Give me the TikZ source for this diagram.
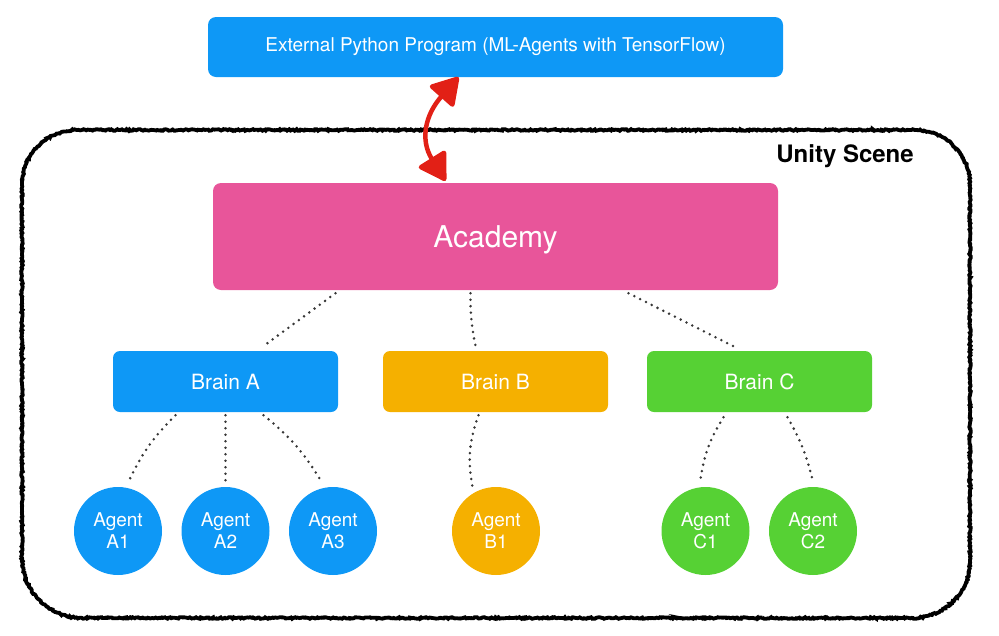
\documentclass[tikz,border=0pt]{standalone}
\usepackage{fontspec}
\setmainfont{TeX Gyre Heros}
\usetikzlibrary{arrows.meta,decorations.pathmorphing}

\definecolor{progblue}{RGB}{14,152,246}
\definecolor{acadpink}{RGB}{232,85,154}
\definecolor{brainorange}{RGB}{245,176,0}
\definecolor{braingreen}{RGB}{86,209,52}
\definecolor{arrowred}{RGB}{226,32,22}
\definecolor{dotgray}{RGB}{55,55,55}

\begin{document}
\begin{tikzpicture}[x=1pt,y=-1pt,
    brainbox/.style={fill=#1,rounded corners=7pt,minimum width=225pt,minimum height=61pt,inner sep=0pt,text=white,font=\fontsize{21}{25}\selectfont},
    agent/.style={circle,fill=#1,minimum size=88pt,inner sep=0pt,text=white,align=center,font=\fontsize{19}{22}\selectfont},
    dotlink/.style={draw=dotgray,line width=2.8pt,line cap=round,dash pattern=on 0pt off 6.5pt},
    rough/.style={draw=black,line width=#1,decorate,decoration={random steps,segment length=1.5pt,amplitude=0.8pt}}]
	\useasboundingbox (0,0) rectangle (999,635);
	\pgfmathsetseed{7}
	%UNITY SCENE FRAME
	\foreach \w in {3.8pt,1.5pt}
		\draw[rough=\w] (77,130) -- (915,130) arc[start angle=-90,end angle=0,radius=55]
			-- (970,561) arc[start angle=0,end angle=90,radius=57]
			-- (82,618) arc[start angle=90,end angle=180,radius=60]
			-- (22,185) arc[start angle=180,end angle=270,radius=55] -- cycle;
	\node[anchor=base,font=\fontsize{24}{28}\selectfont\bfseries] (scene) at (845,162) {Unity Scene};
	%PROGRAM AND ACADEMY
	\node[fill=progblue,rounded corners=8pt,minimum width=575pt,minimum height=60pt,inner sep=0pt,text=white,font=\fontsize{19}{23}\selectfont] (program) at (495.5,47) {External Python Program (ML-Agents with TensorFlow)};
	\node[fill=acadpink,rounded corners=8pt,minimum width=565pt,minimum height=107pt,inner sep=0pt,text=white,text depth=0pt,font=\fontsize{30}{36}\selectfont] (academy) at (495.5,236.5) {Academy};
	\draw[arrowred,line width=4.5pt,{Triangle[length=29pt,width=34pt,round]}-{Triangle[length=29pt,width=34pt,round]}]
		([xshift=-50pt,yshift=2pt]academy.north) .. controls (420,140) and (425,115) .. ([xshift=-37pt]program.south);
	%BRAINS
	\node[brainbox=progblue] (brainA) at (225.5,381.5) {Brain A};
	\node[brainbox=brainorange] (brainB) at (495.5,381.5) {Brain B};
	\node[brainbox=braingreen] (brainC) at (759.5,381.5) {Brain C};
	%AGENTS
	\node[agent=progblue] (agentA1) at (118,531) {Agent\\A1};
	\node[agent=progblue] (agentA2) at (225.5,531) {Agent\\A2};
	\node[agent=progblue] (agentA3) at (333,531) {Agent\\A3};
	\node[agent=brainorange] (agentB1) at (496,531) {Agent\\B1};
	\node[agent=braingreen] (agentC1) at (705.5,531) {Agent\\C1};
	\node[agent=braingreen] (agentC2) at (813,531) {Agent\\C2};
	%DOTTED LINKS
	\draw[dotlink] ([xshift=-160pt,yshift=-3pt]academy.south) -- ([xshift=37pt,yshift=4pt]brainA.north);
	\draw[dotlink] ([xshift=-25pt,yshift=-3pt]academy.south) to[bend right=6] ([xshift=-20pt,yshift=5pt]brainB.north);
	\draw[dotlink] ([xshift=133pt,yshift=-3pt]academy.south) -- ([xshift=-25pt,yshift=4pt]brainC.north);
	\draw[dotlink] ([xshift=-50pt,yshift=-3pt]brainA.south) to[bend right=10] ([yshift=5pt]agentA1.77);
	\draw[dotlink] ([yshift=-3pt]brainA.south) -- ([yshift=5pt]agentA2.north);
	\draw[dotlink] ([xshift=38pt,yshift=-3pt]brainA.south) to[bend left=10] ([yshift=5pt]agentA3.104);
	\draw[dotlink] ([xshift=-17pt,yshift=-3pt]brainB.south) to[bend right=15] ([yshift=6pt]agentB1.122);
	\draw[dotlink] ([xshift=-36pt,yshift=-5pt]brainC.south) to[bend right=12] ([yshift=5pt]agentC1.97);
	\draw[dotlink] ([xshift=28pt,yshift=-5pt]brainC.south) to[bend left=8] ([yshift=5pt]agentC2.north);
\end{tikzpicture}
\end{document}
